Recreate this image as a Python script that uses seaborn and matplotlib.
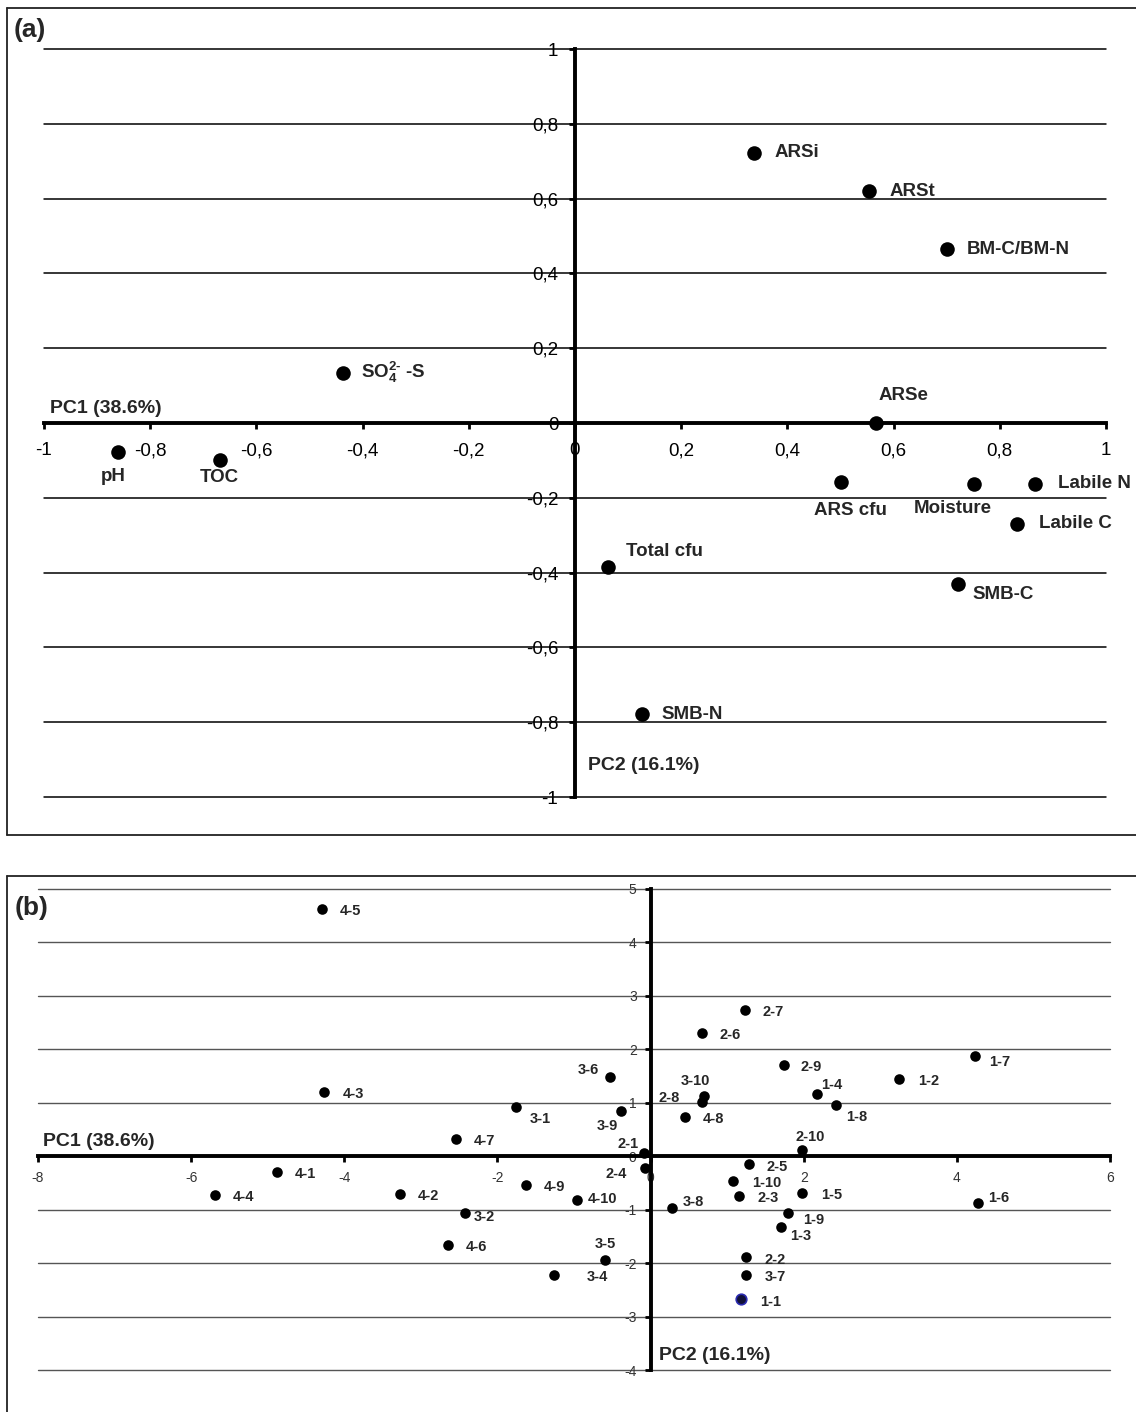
import numpy as np
import pandas as pd
import matplotlib
matplotlib.use('Agg')
import matplotlib.pyplot as plt
from matplotlib.lines import Line2D
import seaborn as sns

# ---------------- data: panel (a) variable loadings ----------------
var_names = ['ARSi', 'ARSt', 'BM-C/BM-N', r'SO$_4^{2\text{-}}$ -S', 'ARSe', 'pH', 'TOC',
             'ARS cfu', 'Moisture', 'Labile N', 'Labile C', 'Total cfu', 'SMB-C', 'SMB-N']
var_pc1 = [0.337, 0.554, 0.700, -0.436, 0.566, -0.861, -0.669,
           0.501, 0.751, 0.867, 0.832, 0.062, 0.722, 0.126]
var_pc2 = [0.723, 0.621, 0.465, 0.134, 0.0, -0.078, -0.099,
           -0.158, -0.163, -0.162, -0.269, -0.384, -0.430, -0.777]

a_ticks = [-1, -0.8, -0.6, -0.4, -0.2, 0, 0.2, 0.4, 0.6, 0.8, 1]
a_ticklabels = ['-1', '-0,8', '-0,6', '-0,4', '-0,2', '0', '0,2', '0,4', '0,6', '0,8', '1']

# ---------------- data: panel (b) sample scores ----------------
samples = ['1-1', '1-2', '1-3', '1-4', '1-5', '1-6', '1-7', '1-8', '1-9', '1-10',
           '2-1', '2-2', '2-3', '2-4', '2-5', '2-6', '2-7', '2-8', '2-9', '2-10',
           '3-1', '3-2', '3-4', '3-5', '3-6', '3-7', '3-8', '3-9', '3-10',
           '4-1', '4-2', '4-3', '4-4', '4-5', '4-6', '4-7', '4-8', '4-9', '4-10']
smp_pc1 = [1.18, 3.25, 1.70, 2.18, 1.98, 4.27, 4.24, 2.42, 1.80, 1.08,
           -0.09, 1.25, 1.16, -0.07, 1.28, 0.67, 1.23, 0.67, 1.74, 1.98,
           -1.76, -2.42, -1.26, -0.59, -0.53, 1.25, 0.28, -0.38, 0.70,
           -4.88, -3.27, -4.26, -5.69, -4.29, -2.65, -2.54, 0.45, -1.63, -0.96]
smp_pc2 = [-2.67, 1.45, -1.32, 1.16, -0.68, -0.87, 1.875, 0.95, -1.07, -0.46,
           0.06, -1.88, -0.75, -0.22, -0.15, 2.31, 2.73, 1.01, 1.70, 0.125,
           0.92, -1.06, -2.23, -1.95, 1.48, -2.23, -0.97, 0.85, 1.13,
           -0.30, -0.70, 1.21, -0.73, 4.63, -1.66, 0.32, 0.74, -0.53, -0.81]
highlight_sample = '1-1'

b_xticks = [-8, -6, -4, -2, 0, 2, 4, 6]
b_xticklabels = ['-8', '-6', '-4', '-2', '0', '2', '4', '6']
b_yticks = [-4, -3, -2, -1, 0, 1, 2, 3, 4, 5]
b_yticklabels = ['-4', '-3', '-2', '-1', '0', '1', '2', '3', '4', '5']

pc1_title = 'PC1 (38.6%)'
pc2_title = 'PC2 (16.1%)'

# ---------------- styles: label placement (ha, dx px, dy px downward) ----------------
a_label_style = [('left', 21, 0), ('left', 20, 1), ('left', 20, 0), ('left', 18, 0),
                 ('center', 28, -27), ('center', -5, 24), ('center', 0, 17),
                 ('center', 9, 28), ('center', -21, 25), ('left', 23, 0),
                 ('left', 22, 0), ('left', 18, -15), ('left', 14, 11), ('left', 20, 1)]
b_label_style = [('left', 19, 3), ('left', 19, 2), ('left', 9, 9), ('left', 4, -9),
                 ('left', 19, 2), ('left', 11, -5), ('left', 14, 6), ('left', 10, 12),
                 ('left', 15, 7), ('left', 19, 2),
                 ('right', -5, -9), ('left', 18, 3), ('left', 18, 2), ('right', -18, 6),
                 ('left', 18, 3), ('left', 18, 2), ('left', 18, 2), ('right', -22, -4),
                 ('left', 17, 2), ('center', 8, -13),
                 ('left', 14, 12), ('left', 8, 4), ('left', 33, 2), ('center', 0, -16),
                 ('right', -11, -7), ('left', 18, 2), ('left', 11, -6), ('right', -4, 15),
                 ('center', -9, -15),
                 ('left', 18, 2), ('left', 18, 2), ('left', 18, 2), ('left', 18, 2),
                 ('left', 18, 2), ('left', 18, 2), ('left', 18, 2), ('left', 18, 2),
                 ('left', 18, 2), ('left', 11, -1)]

sns.set_theme(style='white')
plt.rcParams['font.family'] = ['Liberation Sans', 'DejaVu Sans']
plt.rcParams['mathtext.fontset'] = 'custom'
plt.rcParams['mathtext.rm'] = 'Liberation Sans:bold'
plt.rcParams['mathtext.it'] = 'Liberation Sans:bold'
plt.rcParams['mathtext.bf'] = 'Liberation Sans:bold'
plt.rcParams['mathtext.default'] = 'rm'

W, H = 1136, 1412
fig = plt.figure(figsize=(W / 100, H / 100), dpi=100)
fig.patch.set_facecolor('white')


def px_rect(x0, y0, x1, y1):
    return [x0 / W, 1 - y1 / H, (x1 - x0) / W, (y1 - y0) / H]


def style_axes(ax, spine_lw):
    for s in ['top', 'right']:
        ax.spines[s].set_visible(False)
    ax.spines['left'].set_position(('data', 0))
    ax.spines['bottom'].set_position(('data', 0))
    for s in ['left', 'bottom']:
        ax.spines[s].set_linewidth(spine_lw)
        ax.spines[s].set_color('black')
        ax.spines[s].set_zorder(4)
    ax.set_facecolor('none')
    ax.set_xlabel('')
    ax.set_ylabel('')


# ---------------- panel (a) ----------------
ax_a = fig.add_axes(px_rect(44, 49, 1106, 797))
df_a = pd.DataFrame({'PC1': var_pc1, 'PC2': var_pc2, 'name': var_names})
sns.scatterplot(data=df_a, x='PC1', y='PC2', ax=ax_a, s=110, color='black',
                edgecolor='black', linewidth=0, zorder=5, legend=False)
ax_a.set_xlim(-1, 1)
ax_a.set_ylim(-1, 1)
style_axes(ax_a, 2.8)
ax_a.set_xticks(a_ticks)
ax_a.set_xticklabels(a_ticklabels)
ax_a.set_yticks(a_ticks)
ax_a.set_yticklabels(a_ticklabels)
ax_a.tick_params(axis='x', direction='out', length=4, width=2, pad=10,
                 labelsize=13.5, colors='black', bottom=True)
ax_a.tick_params(axis='y', direction='out', length=4, width=2, pad=8,
                 labelsize=13.5, colors='black', left=True)
ax_a.yaxis.grid(True, color='black', linewidth=1.1)
ax_a.xaxis.grid(False)
for gl in ax_a.get_ygridlines():
    gl.set_clip_on(False)
ax_a.set_axisbelow(True)

for (nm, x, y), (ha, dx, dy) in zip(zip(var_names, var_pc1, var_pc2), a_label_style):
    ax_a.annotate(nm, (x, y), xytext=(dx, -dy), textcoords='offset pixels',
                  ha=ha, va='center', fontsize=13.5, fontweight='bold', zorder=6)

ax_a.annotate(pc1_title, (-1, 0), xytext=(6, 6), textcoords='offset pixels',
              ha='left', va='bottom', fontsize=14, fontweight='bold')
ax_a.annotate(pc2_title, (0, -0.917), xytext=(13, 0), textcoords='offset pixels',
              ha='left', va='center', fontsize=14, fontweight='bold')

# ---------------- panel (b) ----------------
ax_b = fig.add_axes(px_rect(38, 889, 1110, 1370))
df_b = pd.DataFrame({'PC1': smp_pc1, 'PC2': smp_pc2, 'sample': samples})
sns.scatterplot(data=df_b, x='PC1', y='PC2', ax=ax_b, s=58, color='black',
                edgecolor='black', linewidth=0, zorder=5, legend=False)
df_h = df_b[df_b['sample'] == highlight_sample]
sns.scatterplot(data=df_h, x='PC1', y='PC2', ax=ax_b, s=58, color='#101038',
                edgecolor='#2b2bb0', linewidth=1.2, zorder=6, legend=False)
ax_b.set_xlim(-8, 6)
ax_b.set_ylim(-4, 5)
style_axes(ax_b, 2.8)
ax_b.set_xticks(b_xticks)
ax_b.set_xticklabels(b_xticklabels)
ax_b.set_yticks(b_yticks)
ax_b.set_yticklabels(b_yticklabels)
ax_b.tick_params(axis='x', direction='out', length=4, width=2, pad=7,
                 labelsize=10, labelcolor='#333333', color='black', bottom=True)
ax_b.tick_params(axis='y', direction='out', length=4, width=2, pad=6,
                 labelsize=10, labelcolor='#333333', color='black', left=True)
ax_b.yaxis.grid(True, color='#555555', linewidth=1.0)
ax_b.xaxis.grid(False)
for gl in ax_b.get_ygridlines():
    gl.set_clip_on(False)
ax_b.set_axisbelow(True)

for (nm, x, y), (ha, dx, dy) in zip(zip(samples, smp_pc1, smp_pc2), b_label_style):
    ax_b.annotate(nm, (x, y), xytext=(dx, -dy), textcoords='offset pixels',
                  ha=ha, va='center', fontsize=10.5, fontweight='bold', zorder=7)

ax_b.annotate(pc1_title, (-8, 0), xytext=(5, 6), textcoords='offset pixels',
              ha='left', va='bottom', fontsize=14, fontweight='bold')
ax_b.annotate(pc2_title, (0, -3.73), xytext=(8, 0), textcoords='offset pixels',
              ha='left', va='center', fontsize=14, fontweight='bold')

# ---------------- panel frames and letters ----------------
def fig_line(x0, y0, x1, y1):
    fig.add_artist(Line2D([x0 / W, x1 / W], [1 - y0 / H, 1 - y1 / H],
                          transform=fig.transFigure, color='#222222', linewidth=1.3))

fig_line(7, 8, W, 8)
fig_line(7, 8, 7, 835)
fig_line(7, 835, W, 835)
fig_line(7, 876, W, 876)
fig_line(7, 876, 7, H)

fig.text(14 / W, 1 - 30 / H, '(a)', ha='left', va='center', fontsize=19, fontweight='bold')
fig.text(15 / W, 1 - 908 / H, '(b)', ha='left', va='center', fontsize=19, fontweight='bold')

fig.savefig('out.png', dpi=100, facecolor='white')
